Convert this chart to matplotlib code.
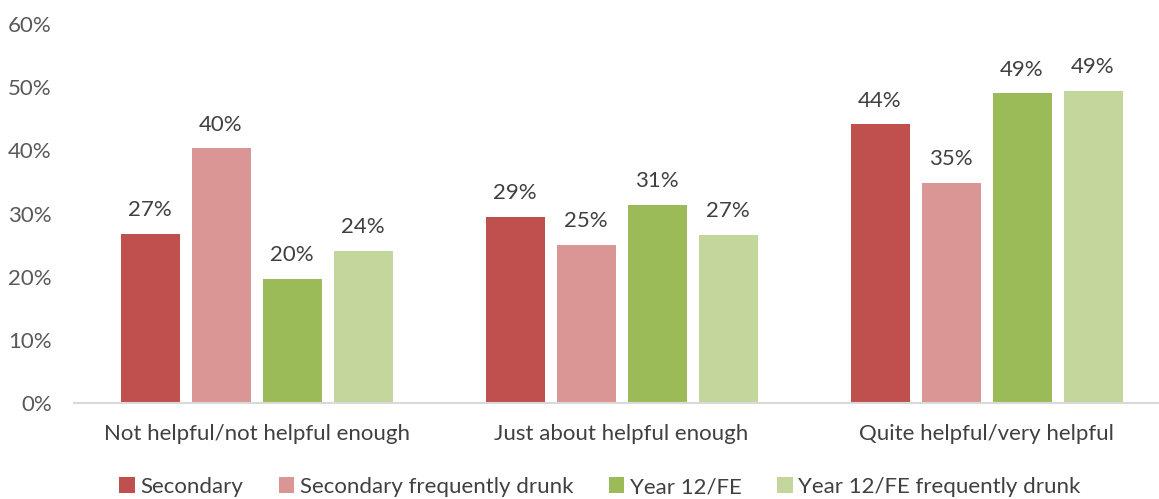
import matplotlib
matplotlib.use("Agg")
import matplotlib.pyplot as plt
import numpy as np

categories = ["Not helpful/not helpful enough", "Just about helpful enough", "Quite helpful/very helpful"]
series_names = ["Secondary", "Secondary frequently drunk", "Year 12/FE", "Year 12/FE frequently drunk"]
secondary = [26.7, 29.4, 44.1]
secondary_freq = [40.3, 25.0, 34.8]
year12 = [19.7, 31.4, 49.0]
year12_freq = [24.1, 26.6, 49.4]
colors = ["#C0504D", "#D99694", "#9BBB59", "#C3D69B"]
yticks = [0, 10, 20, 30, 40, 50, 60]

plt.rcParams['font.family'] = ['Lato', 'DejaVu Sans']

fig = plt.figure(figsize=(11.59, 4.99), dpi=100)
ax = fig.add_axes([74/1159, 1 - 403/499, (1159-74)/1159, (403-24)/499])

x = np.arange(len(categories))
step = 71/365
width = 59/365
all_series = [secondary, secondary_freq, year12, year12_freq]
for i, (vals, name, c) in enumerate(zip(all_series, series_names, colors)):
    pos = x + (i - 1.5) * step
    ax.bar(pos, vals, width=width, color=c, label=name, zorder=2)
    for p, v in zip(pos, vals):
        ax.annotate(f"{round(v):d}%", (p, v), xytext=(0, 10), textcoords="offset points",
                    ha="center", va="bottom", fontsize=16, color="#404040")

ax.set_ylim(0, 60)
ax.set_xlim(-0.5, (1159-256.5)/365)
ax.set_yticks(yticks)
ax.set_yticklabels([f"{t}%" for t in yticks], fontsize=16, color="#595959")
ax.set_xticks(x)
ax.set_xticklabels(categories, fontsize=16, color="#404040")
ax.tick_params(axis="both", length=0)
ax.tick_params(axis="y", pad=16)
ax.tick_params(axis="x", pad=15)
for s in ["top", "right", "left"]:
    ax.spines[s].set_visible(False)
ax.spines["bottom"].set_color("#D9D9D9")
ax.spines["bottom"].set_linewidth(1.5)

fig.legend(loc="center", bbox_to_anchor=(600/1159, 1 - 487/499), ncol=4, frameon=False,
           fontsize=16, handlelength=0.7, handleheight=0.7, handletextpad=0.25,
           columnspacing=1.6, labelcolor="#404040")

fig.savefig("out.png", dpi=100)
